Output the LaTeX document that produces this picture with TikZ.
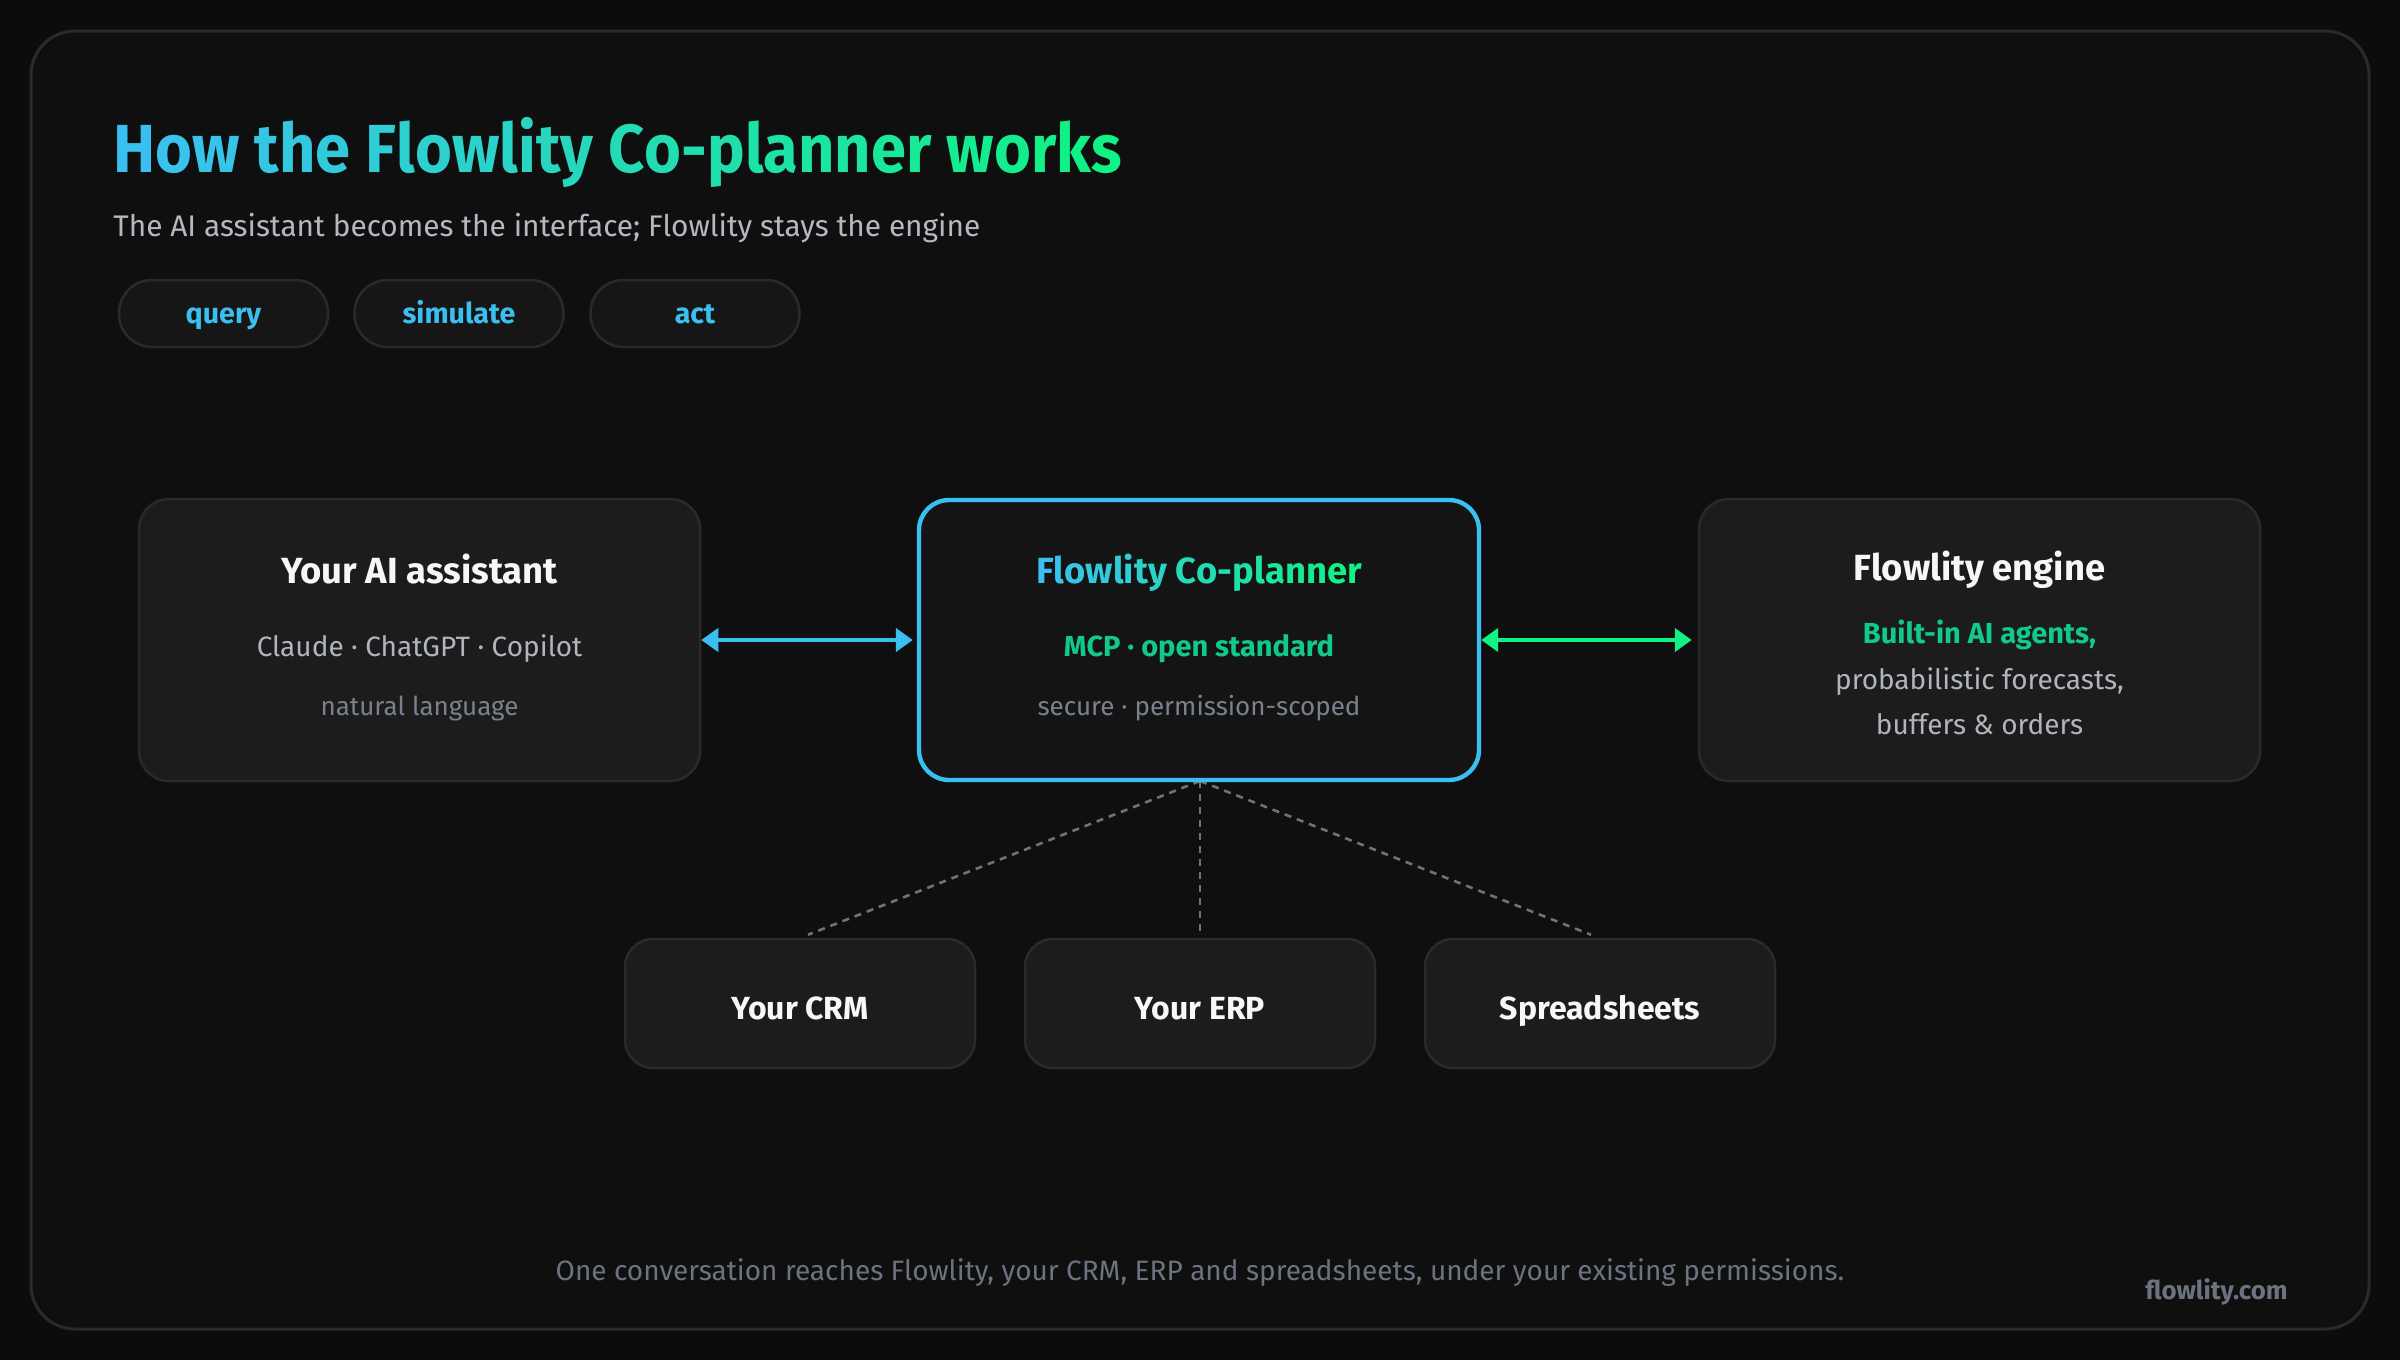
\documentclass[tikz,border=0pt]{standalone}
\usepackage{fontspec}
\setmainfont{Fira Sans}
\newfontfamily\titlefont{Fira Sans}[FakeStretch=0.93]
\usetikzlibrary{arrows.meta,calc}
\definecolor{bg}{HTML}{0C0C0C}
\definecolor{panel}{HTML}{0F0F0F}
\definecolor{framec}{HTML}{2A2A2A}
\definecolor{boxfill}{HTML}{1C1C1C}
\definecolor{pillfill}{HTML}{161616}
\definecolor{cfill}{HTML}{141414}
\definecolor{skyb}{HTML}{3AC0F0}
\definecolor{neon}{HTML}{10F283}
\definecolor{teal}{HTML}{12C98C}
\definecolor{subgray}{HTML}{B4B8C0}
\definecolor{midgray}{HTML}{B0B4BC}
\definecolor{dimgray}{HTML}{7A818E}
\definecolor{dashc}{HTML}{6B7280}
\definecolor{whitec}{HTML}{F7F7F7}
\makeatletter
\newcount\gr@n
\newcommand\gradtxt[2]{%
  \gr@n=0
  \@tfor\gr@c:=#2\do{%
    \pgfmathtruncatemacro\gr@p{100-100*\gr@n/#1}%
    \textcolor{skyb!\gr@p!neon}{\gr@c}%
    \advance\gr@n by 1 }}
\makeatother
\tikzset{
  txt/.style={inner sep=0pt, anchor=base},
  bigbox/.style={draw=framec, line width=1.25pt, fill=boxfill, rounded corners=15pt,
    minimum width=280.5pt, minimum height=141pt, inner sep=0pt},
  copbox/.style={draw=skyb, line width=2.2pt, fill=cfill, rounded corners=15pt,
    minimum width=280pt, minimum height=140pt, inner sep=0pt},
  smallbox/.style={draw=framec, line width=1.25pt, fill=boxfill, rounded corners=14pt,
    minimum width=175pt, minimum height=64.5pt, inner sep=0pt},
  pill/.style={draw=framec, line width=1.25pt, fill=pillfill, rounded corners=16.5pt,
    minimum width=104.5pt, minimum height=33.5pt, inner sep=0pt},
  pilltxt/.style={txt, text=skyb, font=\fontsize{14.3}{17}\selectfont\bfseries},
  btitle/.style={txt, text=whitec, font=\fontsize{18.2}{22}\selectfont\bfseries},
  bline/.style={txt, text=midgray, font=\fontsize{14}{17}\selectfont},
  bdim/.style={txt, text=dimgray, font=\fontsize{13}{16}\selectfont},
  bgreen/.style={txt, text=teal, font=\fontsize{14.5}{18}\selectfont\bfseries},
  stitle/.style={txt, text=whitec, font=\fontsize{16}{20}\selectfont\bfseries},
  dashl/.style={draw=dashc, line width=1.3pt, dash pattern=on 3.5pt off 3pt},
  barrow/.style={draw=skyb, line width=2.3pt, {Triangle[length=8.5pt,width=11.5pt]}-{Triangle[length=8.5pt,width=11.5pt]}},
  garrow/.style={draw=neon, line width=2.3pt, {Triangle[length=8.5pt,width=11.5pt]}-{Triangle[length=8.5pt,width=11.5pt]}}
}
\begin{document}
\begin{tikzpicture}[x=0.5pt, y=-0.5pt]
\path[use as bounding box, fill=bg] (0,0) rectangle (2400,1360);
\draw[framec, line width=1.5pt, fill=panel, rounded corners=22pt] (31,31) rectangle (2369,1329);

% title and subtitle
\node[txt, anchor=base west, font=\titlefont\fontsize{34}{40}\selectfont\bfseries] (title) at (113,172)
  {\gradtxt{32}{How~the~Flowlity~Co-planner~works}};
\node[txt, anchor=base west, text=subgray, font=\fontsize{14.9}{18}\selectfont] (subtitle) at (113,236)
  {The AI assistant becomes the interface; Flowlity stays the engine};

% pills
\node[pill] (p1) at (223.5,313.5) {};
\node[pill] (p2) at (459,313.5) {};
\node[pill] (p3) at (695,313.5) {};
\node[pilltxt] (p1t) at (223.5,323) {query};
\node[pilltxt] (p2t) at (459,323) {simulate};
\node[pilltxt] (p3t) at (695,323) {act};

% dashed connectors
\node[smallbox] (crm) at (800,1003.5) {};
\node[smallbox] (erp) at (1200,1003.5) {};
\node[smallbox] (sheets) at (1600,1003.5) {};
\coordinate (crmend) at ($(crm.north)+(8,-3)$);
\coordinate (erpend) at ($(erp.north)+(0,-7)$);
\coordinate (sheetend) at ($(sheets.north)+(-9,-3)$);
\coordinate (hub) at (1200,781);
\draw[dashl] (hub) -- (crmend);
\draw[dashl] (hub) -- (erpend);
\draw[dashl] (hub) -- (sheetend);

% main boxes
\node[bigbox] (ai) at (419.5,640) {};
\node[copbox] (cop) at (1199,640) {};
\node[bigbox] (eng) at (1979.5,640) {};

\draw[barrow] (ai.east) -- ([xshift=-2pt]cop.west);
\draw[garrow] (cop.east) -- ([xshift=-3pt]eng.west);

% AI box text
\node[btitle] (ait) at (419.5,583) {Your AI assistant};
\node[bline] (ail) at (419.5,656) {Claude · ChatGPT · Copilot};
\node[bdim] (aid) at (419.5,715) {natural language};

% co-planner text
\node[txt, font=\fontsize{18.2}{22}\selectfont\bfseries] (copt) at (1199,583) {\gradtxt{18}{Flowlity~Co-planner}};
\node[bgreen] (copl) at (1199,656) {MCP · open standard};
\node[bdim] (copd) at (1199,715) {secure · permission-scoped};

% engine text
\node[btitle] (engt) at (1979.5,580) {Flowlity engine};
\node[bgreen] (engg) at (1979.5,643) {Built-in AI agents,};
\node[bline] (eng1) at (1979.5,689) {probabilistic forecasts,};
\node[bline] (eng2) at (1979.5,734) {buffers \& orders};

% small box text
\node[stitle] (crmt) at (800,1019) {Your CRM};
\node[stitle] (erpt) at (1200,1019) {Your ERP};
\node[stitle] (sheetst) at (1600,1019) {Spreadsheets};

% footer
\node[txt, text=dashc, font=\fontsize{14}{17}\selectfont] (foot) at (1200,1280)
  {One conversation reaches Flowlity, your CRM, ERP and spreadsheets, under your existing permissions.};
\node[txt, anchor=base east, text=dashc, font=\fontsize{12.9}{15}\selectfont\bfseries] (brand) at (2288,1299) {flowlity.com};
\end{tikzpicture}
\end{document}
